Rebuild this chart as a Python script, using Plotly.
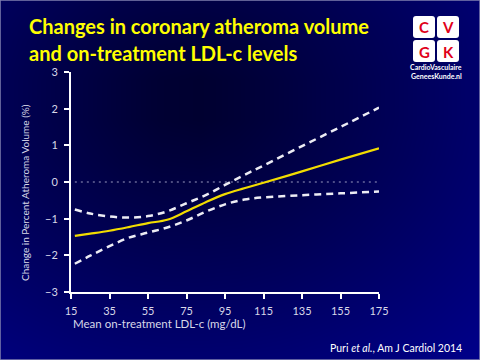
import plotly.graph_objects as go
import numpy as np

# ---- data ----
ldl_x = [17, 25, 35, 45, 55, 65, 75, 85, 95, 105, 115, 135, 155, 175]
mean_change = [-1.47, -1.41, -1.33, -1.23, -1.12, -1.03, -0.80, -0.55, -0.33, -0.17, -0.02, 0.29, 0.61, 0.92]
upper_ci = [-0.75, -0.86, -0.94, -0.97, -0.93, -0.80, -0.58, -0.36, -0.08, 0.19, 0.45, 0.98, 1.50, 2.03]
lower_ci = [-2.23, -2.01, -1.75, -1.52, -1.38, -1.24, -1.05, -0.81, -0.61, -0.48, -0.42, -0.36, -0.31, -0.26]
ref_x = [17, 174]
ref_y = [0, 0]
x_ticks = [15, 35, 55, 75, 95, 115, 135, 155, 175]
y_ticks = [-3, -2, -1, 0, 1, 2, 3]

W, H = 480, 360
def px(x): return x / W
def py(y): return (H - y) / H

fig = go.Figure()

# ---- background gradient (style) on full-figure axes ----
gx = np.arange(0, W + 1, 40)
gy = np.arange(0, H + 1, 40)
GX, GY = np.meshgrid(gx, gy)
gz = np.sqrt((GX - 190.0) ** 2 + ((GY - 100.0) * 1.2) ** 2)
fig.add_trace(go.Heatmap(
    x=gx, y=gy, z=gz, zsmooth="best", showscale=False, hoverinfo="skip",
    colorscale=[[0, "#000030"], [0.5, "#00005c"], [1, "#00008a"]],
    xaxis="x", yaxis="y"))

# ---- chart traces ----
fig.add_trace(go.Scatter(x=ref_x, y=ref_y, mode="lines",
                         line=dict(color="#9a9ac0", width=1, dash="2px,4px"),
                         xaxis="x2", yaxis="y2", hoverinfo="skip"))
fig.add_trace(go.Scatter(x=ldl_x, y=upper_ci, mode="lines",
                         line=dict(color="#ececf4", width=2.5, dash="7px,5px", shape="spline"),
                         xaxis="x2", yaxis="y2"))
fig.add_trace(go.Scatter(x=ldl_x, y=lower_ci, mode="lines",
                         line=dict(color="#ececf4", width=2.5, dash="7px,5px", shape="spline"),
                         xaxis="x2", yaxis="y2"))
fig.add_trace(go.Scatter(x=ldl_x, y=mean_change, mode="lines",
                         line=dict(color="#f2dc00", width=2.2, shape="spline"),
                         xaxis="x2", yaxis="y2"))

axis_font = dict(family="Lato", size=11, color="#d8d8e8")

fig.update_layout(
    width=W, height=H,
    margin=dict(l=0, r=0, t=0, b=0, pad=0, autoexpand=False),
    paper_bgcolor="#000050", plot_bgcolor="rgba(0,0,0,0)",
    showlegend=False,
    xaxis=dict(domain=[0, 1], range=[0, W], visible=False, fixedrange=True, automargin=False),
    yaxis=dict(domain=[0, 1], range=[H, 0], visible=False, fixedrange=True, automargin=False),
    xaxis2=dict(domain=[px(71), px(379)], range=[15, 175], anchor="y2",
                tickmode="array", tickvals=x_ticks, ticks="outside", ticklen=5,
                tickwidth=2, tickcolor="white", showline=True, linecolor="white",
                linewidth=2, showgrid=False, zeroline=False, tickfont=axis_font,
                ticklabelstandoff=3, automargin=False),
    yaxis2=dict(domain=[py(292), py(72)], range=[-3, 3], anchor="x2",
                tickmode="array", tickvals=y_ticks, ticks="outside", ticklen=5,
                tickwidth=2, tickcolor="white", showline=True, linecolor="white",
                linewidth=2, showgrid=False, zeroline=False, tickfont=axis_font,
                ticklabelstandoff=4, automargin=False),
)

ann = []
def note(text, x, y, xa="center", ya="middle", **kw):
    ann.append(dict(text=text, x=px(x), y=py(y), xref="paper", yref="paper",
                    xanchor=xa, yanchor=ya, showarrow=False, **kw))

title_font = dict(family="Lato", size=20, color="#ffff00", weight="bold")
note("Changes in coronary atheroma volume", 27, 26, xa="left", font=title_font)
note("and on-treatment LDL-c levels", 27, 53, xa="left", font=title_font)
note("Change in Percent Atheroma Volume (%)", 25, 193, textangle=-90,
     font=dict(family="Lato", size=10, color="#d8d8e8"))
note("Mean on-treatment LDL-c (mg/dL)", 71, 323, xa="left",
     font=dict(family="Lato", size=11.5, color="#d8d8e8"))
note("Puri <i>et al.</i>, Am J Cardiol 2014", 464, 348, xa="right",
     font=dict(family="Lato", size=10.5, color="#ffffff"))

# ---- logo ----
shapes = []
def rbox(x0, y0, x1, y1, r=3):
    X0, X1 = px(x0), px(x1)
    Y0, Y1 = py(y0), py(y1)
    rx, ry = r / W, r / H
    return (f"M {X0+rx},{Y0} L {X1-rx},{Y0} Q {X1},{Y0} {X1},{Y0-ry} "
            f"L {X1},{Y1+ry} Q {X1},{Y1} {X1-rx},{Y1} L {X0+rx},{Y1} "
            f"Q {X0},{Y1} {X0},{Y1+ry} L {X0},{Y0-ry} Q {X0},{Y0} {X0+rx},{Y0} Z")
boxes = [(413, 16, 435, 38, "C"), (437, 16, 459, 38, "V"),
         (413, 40, 435, 62, "G"), (437, 40, 459, 62, "K")]
for x0, y0, x1, y1, letter in boxes:
    shapes.append(dict(type="path", path=rbox(x0, y0, x1, y1), xref="paper", yref="paper",
                       fillcolor="white", line=dict(width=0), layer="above"))
    note(f"<b>{letter}</b>", (x0 + x1) / 2, (y0 + y1) / 2 + 0.5,
         font=dict(family="Lato", size=15, color="#e0001a"))
note("<b>CardioVasculaire</b>", 436, 67, font=dict(family="Lato", size=7, color="white"))
note("<b>GeneesKunde.nl</b>", 436, 76, font=dict(family="Lato", size=7, color="white"))

shapes.append(dict(type="rect", xref="paper", yref="paper", x0=0, y0=0, x1=1, y1=1,
                   line=dict(color="#8080b0", width=1.5), fillcolor="rgba(0,0,0,0)"))

fig.update_layout(annotations=ann, shapes=shapes)
fig.write_html("out.html", config={"displayModeBar": False, "staticPlot": True},
               post_script="document.body.style.margin='0';document.body.style.overflow='hidden';")
